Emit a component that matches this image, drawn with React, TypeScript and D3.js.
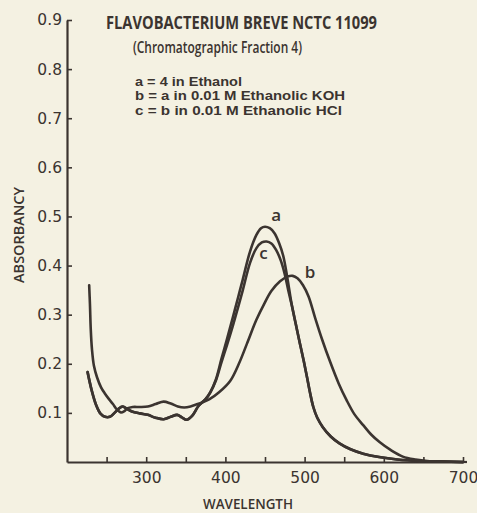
import * as d3 from "d3";
import { useEffect, useRef } from "react";

// page + plot frame
const width = 477;
const height = 513;
const marginTop = 20;
const marginLeft = 67;
const marginRight = 14;
const marginBottom = 51;

const paper = "#f4f1e2";
const ink = "#3b3430";

// [wavelength nm, absorbance]
const seriesA: [number, number][] = [
  [226, 0.183], [231, 0.147], [237, 0.115], [242, 0.099], [248, 0.092], [254, 0.092],
  [260, 0.1], [265, 0.108], [270, 0.113], [275, 0.109], [282, 0.103], [292, 0.099],
  [302, 0.096], [312, 0.09], [322, 0.087], [331, 0.092], [339, 0.096], [345, 0.091],
  [351, 0.086], [358, 0.094], [366, 0.114], [375, 0.128], [381, 0.142], [388, 0.168],
  [395, 0.21], [402, 0.25], [409, 0.292], [416, 0.335], [422, 0.372], [431, 0.428],
  [439, 0.462], [445, 0.476], [450, 0.479], [456, 0.476], [462, 0.466], [468, 0.445],
  [473, 0.42], [478, 0.377], [484, 0.318], [489, 0.28], [494, 0.242], [499, 0.205],
  [503, 0.173], [507, 0.14], [511, 0.112], [516, 0.09], [523, 0.071], [533, 0.052],
  [544, 0.038], [558, 0.026], [574, 0.017], [594, 0.01], [617, 0.005], [645, 0.002],
  [675, 0.001], [700, 0],
];

const seriesC: [number, number][] = [
  [226, 0.183], [231, 0.147], [237, 0.115], [242, 0.099], [248, 0.092], [254, 0.092],
  [260, 0.1], [265, 0.108], [270, 0.113], [275, 0.109], [282, 0.103], [292, 0.099],
  [302, 0.096], [312, 0.09], [322, 0.087], [331, 0.092], [339, 0.096], [345, 0.091],
  [351, 0.086], [358, 0.094], [366, 0.114], [375, 0.128], [381, 0.142], [388, 0.166],
  [395, 0.203], [402, 0.238], [409, 0.275], [416, 0.315], [422, 0.35], [431, 0.405],
  [439, 0.435], [446, 0.447], [452, 0.449], [458, 0.445], [464, 0.432], [470, 0.41],
  [475, 0.382], [480, 0.345], [484, 0.318], [489, 0.28], [494, 0.242], [499, 0.205],
  [503, 0.173], [507, 0.14], [511, 0.112], [516, 0.09], [523, 0.071], [533, 0.052],
  [544, 0.038], [558, 0.026], [574, 0.017], [594, 0.01], [617, 0.005], [645, 0.002],
  [675, 0.001], [700, 0],
];

const seriesB: [number, number][] = [
  [228, 0.36], [229, 0.32], [230, 0.27], [231.5, 0.23], [234, 0.196], [238, 0.172],
  [243, 0.152], [248, 0.139], [253, 0.128], [258, 0.118], [263, 0.107], [268, 0.101],
  [272, 0.103], [276, 0.109], [283, 0.112], [292, 0.112], [302, 0.113], [312, 0.118],
  [322, 0.123], [331, 0.119], [340, 0.113], [348, 0.111], [356, 0.113], [365, 0.118],
  [372, 0.122], [380, 0.128], [392, 0.142], [406, 0.165], [417, 0.2], [427, 0.24],
  [439, 0.289], [449, 0.322], [458, 0.348], [469, 0.368], [479, 0.378], [485, 0.379],
  [491, 0.374], [498, 0.36], [505, 0.337], [513, 0.295], [522, 0.25], [532, 0.205],
  [543, 0.16], [553, 0.126], [563, 0.097], [574, 0.075], [584, 0.056], [595, 0.04],
  [609, 0.024], [624, 0.011], [640, 0.005], [655, 0.002], [680, 0.001], [700, 0],
];

// curve label anchors [wavelength, absorbance] (baseline)
const labelA: [number, number] = [464, 0.491];
const labelB: [number, number] = [507, 0.375];
const labelC: [number, number] = [448, 0.413];

const xTicks = [250, 300, 350, 400, 450, 500, 550, 600, 650, 700];
const xLabels = [300, 400, 500, 600, 700];
const yTicks = [0.1, 0.2, 0.3, 0.4, 0.5, 0.6, 0.7, 0.8, 0.9];

const title = "FLAVOBACTERIUM BREVE NCTC 11099";
const subtitle = "(Chromatographic Fraction 4)";
const legendLines = [
  "a = 4 in Ethanol",
  "b = a in 0.01 M Ethanolic KOH",
  "c = b in 0.01 M Ethanolic HCl",
];

const App = () => {
  const ref = useRef<SVGSVGElement | null>(null);

  useEffect(() => {
    const svg = d3.select(ref.current);
    svg.selectAll("*").remove();

    const x = d3.scaleLinear().domain([200, 700]).range([marginLeft, width - marginRight]);
    const y = d3.scaleLinear().domain([0, 0.9]).range([height - marginBottom, marginTop]);

    svg.append("rect").attr("width", width).attr("height", height).attr("fill", paper);

    // x axis, ticks point up into the plot
    const xAxis = svg.append("g")
      .attr("transform", `translate(0,${height - marginBottom})`)
      .call(
        d3.axisBottom(x)
          .tickValues(xTicks)
          .tickSizeInner(-5)
          .tickSizeOuter(0)
          .tickPadding(10)
          .tickFormat((d) => (xLabels.includes(+d) ? String(d) : ""))
      );
    // the printed axis runs a little past 700
    xAxis.append("line")
      .attr("x1", x(700)).attr("x2", x(700) + 4)
      .attr("stroke", ink).attr("stroke-width", 2.2);

    const yAxis = svg.append("g")
      .attr("transform", `translate(${marginLeft},0)`)
      .call(
        d3.axisLeft(y)
          .tickValues(yTicks)
          .tickSizeInner(-5)
          .tickSizeOuter(0)
          .tickPadding(5)
          .tickFormat(d3.format(".1f"))
      );

    [xAxis, yAxis].forEach((a) => {
      a.select(".domain").attr("stroke", ink).attr("stroke-width", 2.2);
      a.selectAll(".tick line").attr("stroke", ink).attr("stroke-width", 1.6);
      a.selectAll(".tick text")
        .attr("fill", ink)
        .attr("font-family", "'DejaVu Sans', sans-serif")
        .attr("font-size", 15.5);
    });

    // curves
    const line = d3.line<[number, number]>()
      .x((d) => x(d[0]))
      .y((d) => y(d[1]))
      .curve(d3.curveCatmullRom.alpha(0.5));

    [seriesA, seriesB, seriesC].forEach((s) => {
      svg.append("path")
        .attr("d", line(s))
        .attr("fill", "none")
        .attr("stroke", ink)
        .attr("stroke-width", 2.6)
        .attr("stroke-linejoin", "round")
        .attr("stroke-linecap", "round");
    });

    const labels: [string, [number, number]][] = [["a", labelA], ["b", labelB], ["c", labelC]];
    labels.forEach(([t, p]) => {
      svg.append("text")
        .attr("x", x(p[0]))
        .attr("y", y(p[1]))
        .attr("text-anchor", "middle")
        .attr("fill", ink)
        .attr("font-family", "'Open Sans', sans-serif")
        .attr("font-weight", 600)
        .attr("font-size", 17)
        .text(t);
    });

    // header block
    const txt = svg.append("g")
      .attr("fill", ink)
      .attr("font-family", "'Open Sans', sans-serif")
      .attr("font-weight", 600);
    txt.append("text").attr("x", 106).attr("y", 29).attr("font-size", 17)
      .attr("font-weight", 700)
      .attr("textLength", 271).attr("lengthAdjust", "spacingAndGlyphs").text(title);
    txt.append("text").attr("x", 133).attr("y", 53).attr("font-size", 16)
      .attr("textLength", 169).attr("lengthAdjust", "spacingAndGlyphs").text(subtitle);
    const legendWidths = [107, 210, 207];
    legendLines.forEach((t, i) => {
      txt.append("text").attr("x", 135).attr("y", 85.5 + i * 14.8)
        .attr("font-family", "'Liberation Sans', sans-serif")
        .attr("font-weight", 700)
        .attr("font-size", 13.2)
        .attr("textLength", legendWidths[i]).attr("lengthAdjust", "spacingAndGlyphs").text(t);
    });

    // axis titles
    txt.append("text")
      .attr("transform", "translate(24,235) rotate(-90)")
      .attr("text-anchor", "middle")
      .attr("font-size", 15)
      .attr("textLength", 96).attr("lengthAdjust", "spacingAndGlyphs")
      .text("ABSORBANCY");
    txt.append("text")
      .attr("x", 248).attr("y", 509)
      .attr("text-anchor", "middle")
      .attr("font-size", 15)
      .attr("textLength", 90).attr("lengthAdjust", "spacingAndGlyphs")
      .text("WAVELENGTH");
  }, []);

  return (
    <svg
      ref={ref}
      width={width}
      height={height}
      style={{ position: "absolute", left: 0, top: 0, display: "block" }}
    />
  );
};

export default App;
